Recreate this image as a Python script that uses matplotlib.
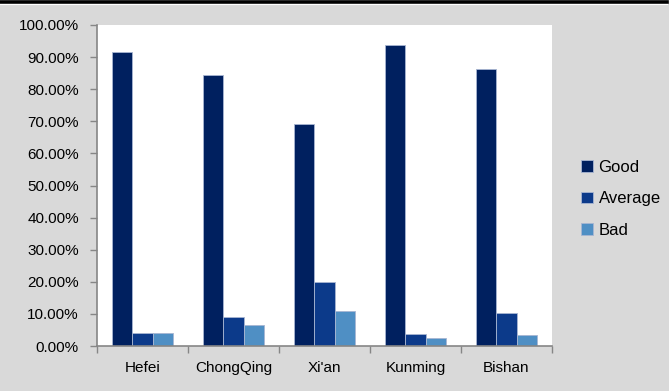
import matplotlib
matplotlib.use('Agg')
import matplotlib.pyplot as plt
import numpy as np
from matplotlib.lines import Line2D
from matplotlib.ticker import FuncFormatter

cities = ['Hefei', 'ChongQing', "Xi'an", 'Kunming', 'Bishan']
good = [91.6, 84.4, 69.2, 93.8, 86.3]
average = [4.1, 9.1, 19.8, 3.6, 10.2]
bad = [4.1, 6.5, 10.9, 2.4, 3.4]

plt.rcParams['font.family'] = ['Liberation Sans', 'DejaVu Sans']

fig = plt.figure(figsize=(6.69, 3.91), dpi=100)
fig.patch.set_facecolor('#d9d9d9')

# black rule across the top of the sheet, thin white line under it
fig.add_artist(Line2D([0, 0.997], [0.9955, 0.9955], transform=fig.transFigure,
                      color='black', linewidth=2.6))
fig.add_artist(Line2D([0, 0.997], [0.9885, 0.9885], transform=fig.transFigure,
                      color='white', linewidth=0.8))

ax = fig.add_axes([97 / 669, 45 / 391, 455 / 669, 321 / 391])
ax.set_facecolor('white')

x = np.arange(len(cities))
w = 0.223
edge = '#a8b6d2'
ax.bar(x - w, good, w, color='#00205f', edgecolor=edge, linewidth=0.6, label='Good')
ax.bar(x, average, w, color='#0c3a8a', edgecolor=edge, linewidth=0.6, label='Average')
ax.bar(x + w, bad, w, color='#4f8fc4', edgecolor=edge, linewidth=0.6, label='Bad')

ax.set_xlim(-0.5, len(cities) - 0.5)
ax.set_ylim(0, 100)
ax.set_yticks(np.arange(0, 101, 10))
ax.yaxis.set_major_formatter(FuncFormatter(lambda v, p: f'{v:.2f}%'))

ax.set_xticks(x)
ax.set_xticklabels(cities)
ax.set_xticks(np.arange(-0.5, len(cities)), minor=True)
ax.tick_params(axis='x', which='major', length=0, pad=11, labelsize=11)
ax.tick_params(axis='x', which='minor', length=5, color='#868686', width=1)
ax.tick_params(axis='y', length=5, color='#868686', width=1, pad=8, labelsize=11)

for s in ['top', 'right']:
    ax.spines[s].set_visible(False)
for s in ['left', 'bottom']:
    ax.spines[s].set_color('#868686')
    ax.spines[s].set_linewidth(1.2)

fig.legend(loc='center left', bbox_to_anchor=(566 / 669, 197 / 391 - 0.012),
           frameon=False, fontsize=12, handlelength=0.7, handleheight=0.7,
           handletextpad=0.35, labelspacing=1.0)

fig.savefig('out.png', dpi=100, facecolor=fig.get_facecolor())
